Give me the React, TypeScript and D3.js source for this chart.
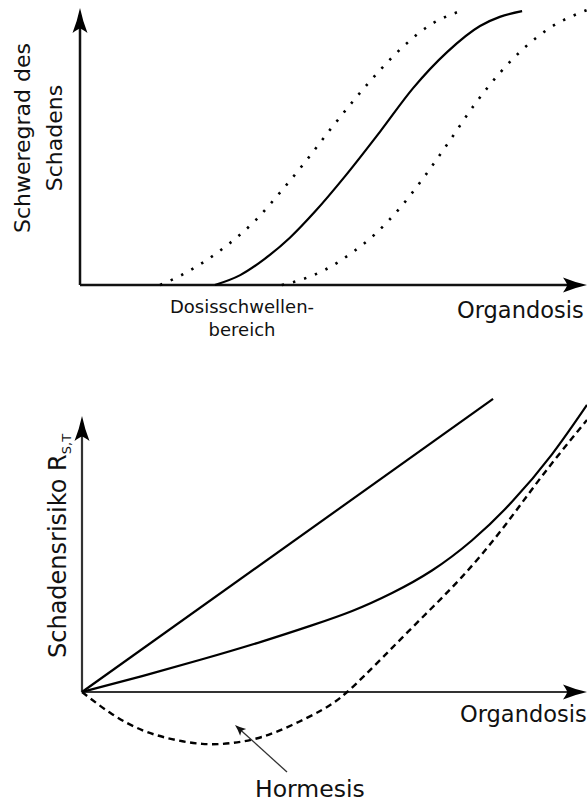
import React from "react";
import * as d3 from "d3";

const W = 587;
const H = 803;
const FONT = "DejaVu Sans, Verdana, sans-serif";

// top panel: severity vs. organ dose (deterministic effects), arbitrary units 0..100
const sevDose = [26.6, 31.6, 36.5, 41.4, 46.4, 52.3, 59.2, 65.7, 72.4, 78.9, 82.8, 87.2];
const sevMid = [0, 3.6, 9.6, 17.2, 26.8, 39.6, 55.8, 71.6, 84.7, 94.2, 97.5, 99.6];

const lowDose = [15.8, 19.7, 24.7, 29.6, 34.5, 39.4, 44.4, 49.3, 54.2, 59.2, 64.1, 69.0, 75.0];
const sevLow = [0, 3.3, 8.7, 15.3, 23.3, 33.5, 44.7, 56.4, 67.6, 78.2, 87.3, 94.5, 99.6];

const highDose = [39.8, 43.4, 48.3, 53.3, 58.2, 63.1, 68.0, 73.0, 77.9, 82.8, 87.8, 92.7, 100];
const sevHigh = [0, 1.8, 5.5, 11.3, 18.5, 28.0, 39.6, 52.7, 65.8, 77.1, 86.5, 93.5, 100];

// bottom panel: risk vs. organ dose (stochastic effects)
const linDose = [0, 81.4];
const riskLinear = [0, 97.7];

const quadDose = [0, 11.9, 23.8, 35.6, 45.5, 53.5, 61.4, 69.3, 77.2, 85.1, 93.1, 100];
const riskQuad = [0, 5.3, 10.9, 16.8, 22.2, 27.0, 33.0, 40.5, 50.5, 63.3, 79.3, 95.7];

const hormDose = [0, 5.9, 11.9, 17.8, 23.8, 29.7, 35.6, 41.6, 47.5, 52.5, 59.4, 67.3, 75.2, 83.2, 91.1, 100];
const riskHorm = [0, -7.3, -12.7, -15.7, -17.3, -17, -15, -11, -6, 0, 11.3, 24.7, 38.3, 54.3, 72, 90.7];

const labels = {
  topY: ["Schweregrad des", "Schadens"],
  topX: "Organdosis",
  threshold: ["Dosisschwellen-", "bereich"],
  botY: "Schadensrisiko R",
  botYSub: "S,T",
  botX: "Organdosis",
  hormesis: "Hormesis",
};

const zip = (xs: number[], ys: number[]) => xs.map((x, i) => [x, ys[i]] as [number, number]);

// swept-back arrow head pointing along angle (radians), tip at (x, y)
function arrowHead(x: number, y: number, angle: number, len: number, half: number) {
  const c = Math.cos(angle), s = Math.sin(angle);
  const pt = (u: number, v: number) => [x + u * c - v * s, y + u * s + v * c] as [number, number];
  const p = d3.path();
  const a = pt(0, 0), b = pt(-len, -half), n = pt(-len * 0.82, 0), e = pt(-len, half);
  p.moveTo(a[0], a[1]);
  p.quadraticCurveTo(...pt(-len * 0.5, -half * 0.35), b[0], b[1]);
  p.quadraticCurveTo(...pt(-len * 0.85, -half * 0.3), n[0], n[1]);
  p.quadraticCurveTo(...pt(-len * 0.85, half * 0.3), e[0], e[1]);
  p.quadraticCurveTo(...pt(-len * 0.5, half * 0.35), a[0], a[1]);
  p.closePath();
  return p.toString();
}

export default function App() {
  // top panel scales
  const x1 = d3.scaleLinear().domain([0, 100]).range([80, 587]);
  const y1 = d3.scaleLinear().domain([0, 100]).range([285, 10]);
  const line1 = d3.line<[number, number]>().x(d => x1(d[0])).y(d => y1(d[1])).curve(d3.curveMonotoneX);

  // bottom panel scales
  const x2 = d3.scaleLinear().domain([0, 100]).range([82, 587]);
  const y2 = d3.scaleLinear().domain([0, 100]).range([692, 392]);
  const line2 = d3.line<[number, number]>().x(d => x2(d[0])).y(d => y2(d[1])).curve(d3.curveNatural);

  const ax1 = { x0: x1(0), y0: y1(0), xEnd: 587, yEnd: 8 };
  const ax2 = { x0: x2(0), y0: y2(0), xEnd: 587, yEnd: 416 };

  // hormesis pointer
  const hx0 = 287, hy0 = 772, hx1 = 235, hy1 = 725;
  const hAng = Math.atan2(hy1 - hy0, hx1 - hx0);

  return (
    <svg width={W} height={H} style={{ position: "absolute", left: 0, top: 0, background: "#fff" }} fontFamily={FONT}>
      <rect width={W} height={H} fill="#fff" />

      {/* ---- top panel ---- */}
      <g>
        <line x1={ax1.x0} y1={ax1.y0} x2={ax1.x0} y2={ax1.yEnd + 14} stroke="#111" strokeWidth={2.5} />
        <line x1={ax1.x0} y1={ax1.y0} x2={ax1.xEnd - 14} y2={ax1.y0} stroke="#111" strokeWidth={2.5} />
        <path d={arrowHead(ax1.x0, ax1.yEnd, -Math.PI / 2, 25, 7.5)} fill="#000" />
        <path d={arrowHead(ax1.xEnd, ax1.y0, 0, 24, 7.5)} fill="#000" />

        <path d={line1(zip(lowDose, sevLow)) || ""} fill="none" stroke="#000" strokeWidth={2.6}
          strokeDasharray="2.4,9.2" />
        <path d={line1(zip(highDose, sevHigh)) || ""} fill="none" stroke="#000" strokeWidth={2.6}
          strokeDasharray="2.4,9.2" />
        <path d={line1(zip(sevDose, sevMid)) || ""} fill="none" stroke="#000" strokeWidth={2.2} />

        <g transform="rotate(-90)" fontSize={22} textAnchor="middle" fill="#111">
          <text x={-138} y={30}>{labels.topY[0]}</text>
          <text x={-138} y={62}>{labels.topY[1]}</text>
        </g>
        <g fontSize={18} textAnchor="middle" fill="#111">
          <text x={242} y={313}>{labels.threshold[0]}</text>
          <text x={242} y={336}>{labels.threshold[1]}</text>
        </g>
        <text x={457} y={318} fontSize={22.5} fill="#111">{labels.topX}</text>
      </g>

      {/* ---- bottom panel ---- */}
      <g>
        <line x1={ax2.x0} y1={ax2.y0} x2={ax2.x0} y2={ax2.yEnd + 14} stroke="#333" strokeWidth={2.2} />
        <line x1={ax2.x0} y1={ax2.y0} x2={ax2.xEnd - 14} y2={ax2.y0} stroke="#333" strokeWidth={2.2} />
        <path d={arrowHead(ax2.x0, ax2.yEnd, -Math.PI / 2, 25, 7.5)} fill="#000" />
        <path d={arrowHead(ax2.xEnd, ax2.y0, 0, 24, 7.5)} fill="#000" />

        <path d={line2(zip(linDose, riskLinear)) || ""} fill="none" stroke="#000" strokeWidth={2.2} />
        <path d={line2(zip(quadDose, riskQuad)) || ""} fill="none" stroke="#000" strokeWidth={2.2} />
        <path d={line2(zip(hormDose, riskHorm)) || ""} fill="none" stroke="#000" strokeWidth={2.4}
          strokeDasharray="6.5,4.5" />

        <line x1={hx0} y1={hy0} x2={hx1 - Math.cos(hAng) * 6} y2={hy1 - Math.sin(hAng) * 6}
          stroke="#333" strokeWidth={1.3} />
        <path d={arrowHead(hx1, hy1, hAng, 11, 4.5)} fill="#111" />

        <text transform="translate(66,658) rotate(-90)" fontSize={24} fill="#111">
          {labels.botY}
          <tspan fontSize={13} dy={5}>{labels.botYSub}</tspan>
        </text>
        <text x={460} y={722} fontSize={22.5} fill="#111">{labels.botX}</text>
        <text x={255} y={797} fontSize={23.5} fill="#111">{labels.hormesis}</text>
      </g>
    </svg>
  );
}
